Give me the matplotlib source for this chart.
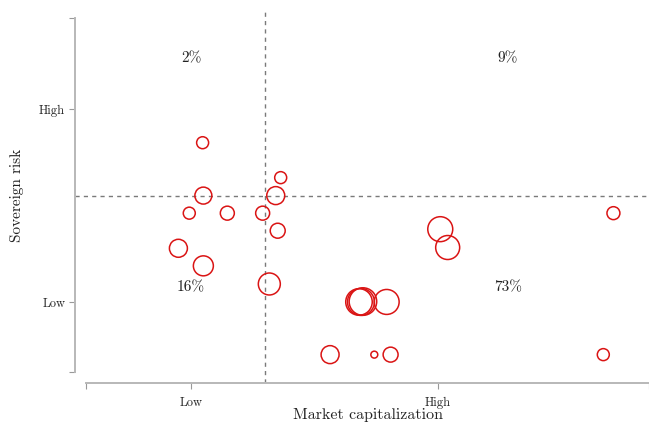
import matplotlib
matplotlib.use("Agg")
import matplotlib.pyplot as plt
import numpy as np

# Country scores: market capitalization (x) vs sovereign risk (y), bubble weight
market_cap = [1.047, 1.363, 1.050, 1.343, 0.993, 1.147, 1.290, 1.351, 0.949, 1.050,
              1.317, 2.009, 2.039, 2.710, 1.680, 1.688, 1.696, 1.792, 1.563, 1.742,
              1.808, 2.669]
sovereign_risk = [1.825, 1.644, 1.551, 1.551, 1.460, 1.460, 1.460, 1.369, 1.278, 1.187,
                  1.093, 1.377, 1.282, 1.460, 1.000, 1.000, 1.002, 1.000, 0.727, 0.727,
                  0.727, 0.727]
weight = [36, 36, 72, 81, 36, 49, 49, 56, 81, 100,
          121, 156, 144, 42, 176, 182, 190, 156, 81, 12,
          56, 36]

x_ticks = [1.0, 2.0]
x_ticklabels = ["Low", "High"]
y_ticks = [1.0, 2.0]
y_ticklabels = ["Low", "High"]

x_split = 1.30
y_split = 1.549

quadrant_x = [1.0, 2.283, 1.0, 2.283]
quadrant_y = [2.264, 2.264, 1.073, 1.073]
quadrant_share = ["2%", "9%", "16%", "73%"]

plt.rcParams["font.family"] = "serif"
plt.rcParams["font.serif"] = ["cmr10", "DejaVu Serif"]
plt.rcParams["axes.formatter.use_mathtext"] = True

W, H = 649, 425
fig = plt.figure(figsize=(W / 100, H / 100), dpi=100)
left_px, right_px, top_px, bottom_px = 75, 649, 8, 383
ax = fig.add_axes([left_px / W, 1 - bottom_px / H,
                   (right_px - left_px) / W, (bottom_px - top_px) / H])

x_lo, x_hi = 0.5304, 2.854
y_lo, y_hi = 0.580, 2.523
ax.set_xlim(x_lo, x_hi)
ax.set_ylim(y_lo, y_hi)

red = "#da1414"
sizes = np.array(weight) * 2.07
ax.scatter(market_cap, sovereign_risk, s=sizes, facecolors="none",
           edgecolors=red, linewidths=1.1, zorder=3)

ax.axvline(x_split, color="#7a7a7a", lw=1.0, ls=(0, (3, 3)), zorder=1)
ax.axhline(y_split, color="#7a7a7a", lw=1.0, ls=(0, (3, 3)), zorder=1)

for qx, qy, t in zip(quadrant_x, quadrant_y, quadrant_share):
    ax.text(qx, qy, t, ha="center", va="center", fontsize=11, color="#222222")

spine_col = "#b8b8b8"
for side in ["top", "right"]:
    ax.spines[side].set_visible(False)
for side in ["left", "bottom"]:
    ax.spines[side].set_color(spine_col)
    ax.spines[side].set_linewidth(1.4)

x_start = 0.575
y_start, y_end = 0.637, 2.471
ax.spines["bottom"].set_bounds(x_start, x_hi)
ax.spines["left"].set_bounds(y_start, y_end)

ax.set_xticks([x_start] + x_ticks + [x_hi])
ax.set_xticklabels([""] + x_ticklabels + [""])
ax.set_yticks([y_start] + y_ticks + [y_end])
ax.set_yticklabels([""] + y_ticklabels + [""])

ax.tick_params(axis="x", length=4, width=0.8, color="#999999", pad=6,
               labelsize=9, labelcolor="#222222")
ax.tick_params(axis="y", length=4, width=0.8, color="#999999", pad=3,
               labelsize=9, labelcolor="#222222")

ax.set_xlabel("Market capitalization", fontsize=11.5, color="#222222")
ax.set_ylabel("Sovereign risk", fontsize=11, color="#222222")
ax.xaxis.set_label_coords((368 - left_px) / (right_px - left_px),
                          (bottom_px - 419.5) / (bottom_px - top_px))
ax.xaxis.label.set_va("baseline")
ax.yaxis.set_label_coords((17 - left_px) / (right_px - left_px), 0.5)
ax.yaxis.label.set_va("center")

fig.savefig("out.png", dpi=100)
